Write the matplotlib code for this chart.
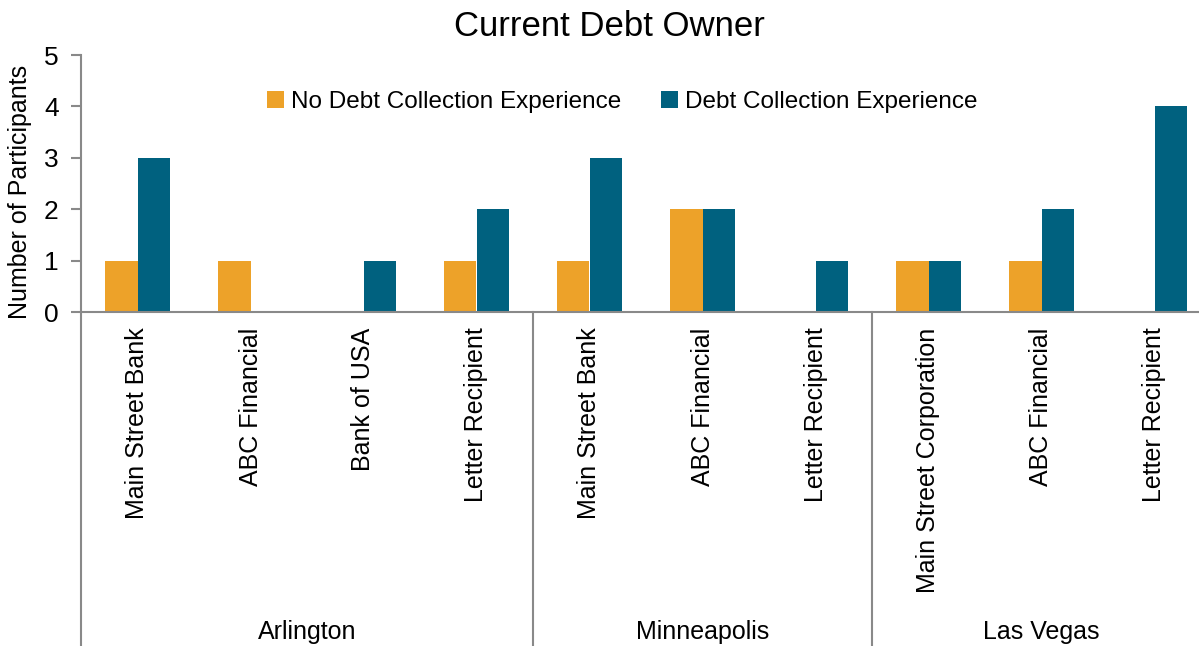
import matplotlib
matplotlib.use("Agg")
import matplotlib.pyplot as plt
import numpy as np

plt.rcParams['font.family'] = ['Liberation Sans', 'DejaVu Sans']

categories = ["Main Street Bank", "ABC Financial", "Bank of USA", "Letter Recipient",
              "Main Street Bank", "ABC Financial", "Letter Recipient",
              "Main Street Corporation", "ABC Financial", "Letter Recipient"]
no_exp = [1, 1, 0, 1, 1, 2, 0, 1, 1, 0]
exp = [3, 0, 1, 2, 3, 2, 1, 1, 2, 4]
groups = ["Arlington", "Minneapolis", "Las Vegas"]
group_sizes = [4, 3, 3]

orange = '#EDA229'
blue = '#00617F'
grey = '#898989'

W, H = 1199, 646
fig = plt.figure(figsize=(W / 100, H / 100), dpi=100)
# axes runs a bit past the right edge, like the original
ax = fig.add_axes([81 / W, (H - 312) / H, 1130 / W, 257 / H])

x = np.arange(len(categories))
bw = 0.288
ax.bar(x - bw / 2, no_exp, bw, color=orange, label='No Debt Collection Experience')
ax.bar(x + bw / 2, exp, bw, color=blue, label='Debt Collection Experience')

ax.set_xlim(-0.5, len(categories) - 0.5)
ax.set_ylim(0, 5)
ax.set_yticks(range(6))
ax.tick_params(axis='y', length=7, width=1.5, color=grey, labelsize=19, pad=9)
ax.set_xticks(x)
ax.set_xticklabels(categories, rotation=90, fontsize=18, va='top')
ax.tick_params(axis='x', length=0, pad=11)

for s in ['top', 'right']:
    ax.spines[s].set_visible(False)
for s in ['left', 'bottom']:
    ax.spines[s].set_color(grey)
    ax.spines[s].set_linewidth(1.5)

# group separators below the axis
trans = ax.get_xaxis_transform()
bottom = -(H - 312) / 257
edges = np.concatenate([[0], np.cumsum(group_sizes)]) - 0.5
for e in edges[:-1]:
    ax.plot([e, e], [0, bottom], transform=trans, color=grey, lw=1.5, clip_on=False)
for i, g in enumerate(groups):
    c = (edges[i] + edges[i + 1]) / 2
    ax.text(c, -(632 - 312) / 257, g, transform=trans, ha='center', va='center', fontsize=18)

fig.text(20 / W, 1 - 192 / H, 'Number of Participants', rotation=90,
         ha='center', va='center', fontsize=18)
fig.text(609 / W, 1 - 26 / H, 'Current Debt Owner', ha='center', va='center', fontsize=25)

ax.legend(loc='upper center', bbox_to_anchor=(0.479, 0.945), ncol=2, frameon=False,
          fontsize=17.5, handlelength=0.7, handleheight=0.7, handletextpad=0.3,
          columnspacing=1.6, bbox_transform=ax.transAxes)

fig.savefig('out.png', dpi=100)
